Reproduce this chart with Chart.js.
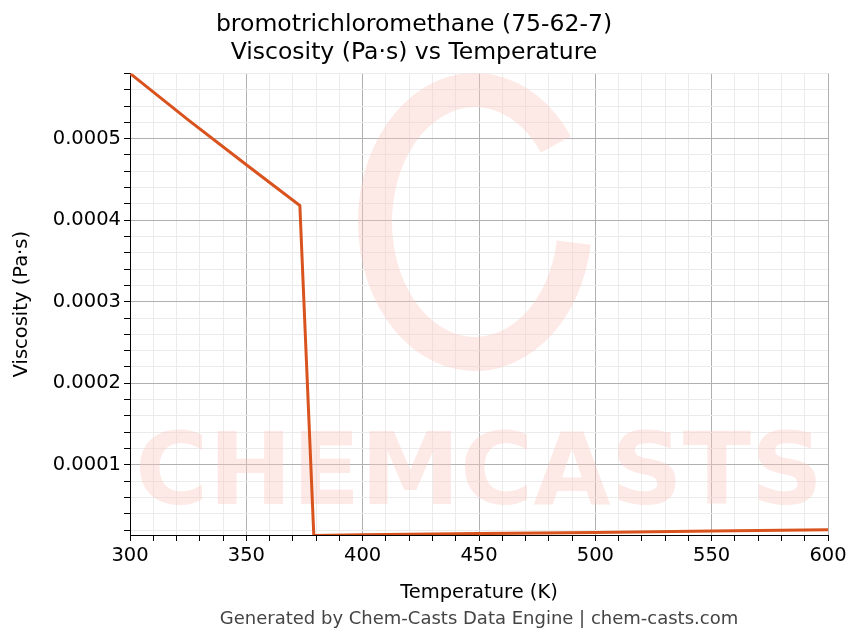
<!DOCTYPE html>
<html>
<head>
<meta charset="utf-8">
<script src="https://cdn.jsdelivr.net/npm/chart.js@4"></script>
<style>
  body { margin: 0; background: #fff; }
  #wrap { position: relative; width: 863px; height: 644px; }
  #footer { position: absolute; top: 607px; left: 0; width: 958px; text-align: center;
            font: 18px "DejaVu Sans", sans-serif; color: #444; }
</style>
</head>
<body>
<div id="wrap">
  <canvas id="chart" width="863" height="644"></canvas>
  <div id="footer">Generated by Chem-Casts Data Engine | chem-casts.com</div>
</div>
<script>
// Temperature (K) and viscosity (Pa·s)
const temperatures = [300, 325, 350, 373, 379, 400, 450, 500, 550, 600];
const viscosities = [0.00058, 0.000523, 0.000468, 0.000418, 0.0000135, 0.0000142, 0.0000157, 0.0000172, 0.0000188, 0.0000205];
const xTicks = [300, 350, 400, 450, 500, 550, 600];
const yTicks = [0.0001, 0.0002, 0.0003, 0.0004, 0.0005];

const points = temperatures.map((t, i) => ({ x: t, y: viscosities[i] }));

const isMajorX = v => xTicks.includes(Math.round(v));
const isMajorY = v => yTicks.some(t => Math.abs(t - v) < 1e-9);
const tickVal = ctx => (ctx.tick ? ctx.tick.value : NaN);

const watermark = {
    id: 'watermark',
    beforeDatasetsDraw(chart) {
        const { ctx, chartArea: a } = chart;
        ctx.save();
        ctx.beginPath();
        ctx.rect(a.left, a.top, a.right - a.left, a.bottom - a.top);
        ctx.clip();
        ctx.fillStyle = 'rgba(250, 200, 190, 0.4)';
        ctx.font = 'bold 100px "DejaVu Sans"';
        ctx.textAlign = 'center';
        ctx.textBaseline = 'middle';
        ctx.fillText('CHEMCASTS', (a.left + a.right) / 2, 478);
        ctx.lineWidth = 34;
        ctx.strokeStyle = 'rgba(250, 200, 190, 0.4)';
        ctx.beginPath();
        ctx.ellipse(475, 222, 100, 132, 0, 0.05 * Math.PI, 1.8 * Math.PI);
        ctx.stroke();
        ctx.restore();
    }
};

const tickFont = { family: 'DejaVu Sans', size: 19.5 };

new Chart(document.getElementById('chart').getContext('2d'), {
    type: 'line',
    data: {
        datasets: [{
            data: points,
            borderColor: '#d9531e',
            borderWidth: 3,
            pointRadius: 0,
            tension: 0
        }]
    },
    options: {
        responsive: false,
        animation: false,
        layout: { padding: { left: 0, right: 35, top: 0, bottom: 39 } },
        scales: {
            x: {
                type: 'linear',
                min: 300,
                max: 600,
                afterFit: axis => { axis.height = 70; },
                ticks: {
                    stepSize: 10,
                    autoSkip: false,
                    maxRotation: 0,
                    color: '#000',
                    font: tickFont,
                    callback: v => isMajorX(v) ? String(Math.round(v)) : ''
                },
                grid: {
                    color: ctx => isMajorX(tickVal(ctx)) ? '#b0b0b0' : '#ebebeb',
                    tickColor: '#000',
                    tickLength: 6
                },
                border: { color: '#000' },
                title: { display: true, text: 'Temperature (K)', color: '#000',
                         font: tickFont, padding: 0 }
            },
            y: {
                min: 0.000014,
                max: 0.00058,
                afterFit: axis => { axis.width = 130; },
                afterBuildTicks: axis => {
                    const ticks = [];
                    for (let i = 1; i <= 29; i++) ticks.push({ value: i * 0.00002 });
                    axis.ticks = ticks;
                },
                ticks: {
                    autoSkip: false,
                    color: '#000',
                    font: tickFont,
                    callback: v => isMajorY(v) ? (Math.round(v * 10000) / 10000).toFixed(4) : ''
                },
                grid: {
                    color: ctx => isMajorY(tickVal(ctx)) ? '#b0b0b0' : '#ebebeb',
                    tickColor: '#000',
                    tickLength: 6
                },
                border: { color: '#000' },
                title: { display: true, text: 'Viscosity (Pa·s)', color: '#000',
                         font: tickFont, padding: { top: 10, bottom: 4 } }
            }
        },
        plugins: {
            legend: { display: false },
            tooltip: { enabled: false },
            title: {
                display: true,
                text: ['bromotrichloromethane (75-62-7)', 'Viscosity (Pa·s) vs Temperature'],
                color: '#000',
                font: { family: 'DejaVu Sans', size: 23.5, weight: 'normal' },
                padding: { top: 11, bottom: 6 },
                lineHeight: 1.1
            }
        }
    },
    plugins: [watermark]
});
</script>
</body>
</html>
